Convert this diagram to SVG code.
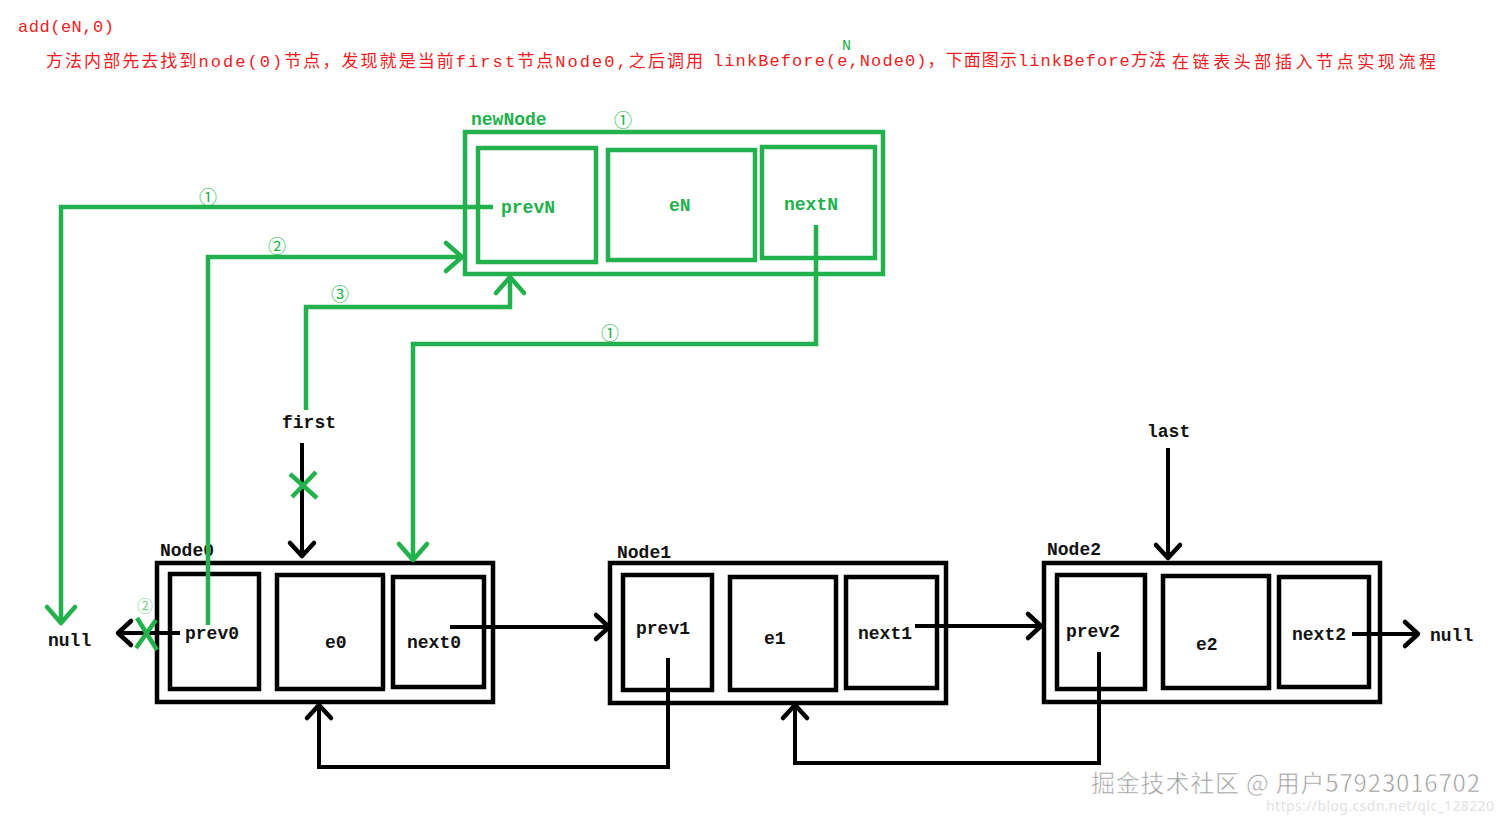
<svg xmlns="http://www.w3.org/2000/svg" width="1503" height="821" viewBox="0 0 1503 821">
<style>
.t{font-family:"Liberation Mono","Noto Sans CJK SC",monospace;font-size:18px;font-weight:bold;fill:#111}
.g{fill:#22b14c}
.red{font-family:"Liberation Mono","Noto Sans CJK SC",monospace;font-size:17px;fill:#ee1c24}
.c{font-family:"Noto Sans CJK SC","DejaVu Sans",sans-serif;font-size:18px;fill:#22b14c}
.bk{fill:none;stroke:#000;stroke-width:4.5}
.gr{fill:none;stroke:#22b14c;stroke-width:4.5}
.bl{fill:none;stroke:#000;stroke-width:4}
.gl{fill:none;stroke:#22b14c;stroke-width:4.5}
.wm{font-family:"Noto Sans CJK SC","Noto Sans",sans-serif;font-size:24px;fill:#9a9a9a;stroke:#fff;stroke-width:0.6}
.wm2{font-family:"Noto Sans","DejaVu Sans",sans-serif;font-size:14px;fill:#e2e2e2}
</style>
<defs>
<marker id="ab" markerUnits="userSpaceOnUse" viewBox="-20 -16 24 32" refX="0" refY="0" markerWidth="24" markerHeight="32" orient="auto" overflow="visible">
<path d="M-13,-12 L0,0 L-13,12" fill="none" stroke="#000" stroke-width="4.5" stroke-linecap="round" stroke-linejoin="round"/>
</marker>
<marker id="ag" markerUnits="userSpaceOnUse" viewBox="-20 -16 24 32" refX="0" refY="0" markerWidth="24" markerHeight="32" orient="auto" overflow="visible">
<path d="M-16,-14 L0,0 L-16,14" fill="none" stroke="#22b14c" stroke-width="4.5" stroke-linecap="round" stroke-linejoin="round"/>
</marker>
</defs>
<rect width="1503" height="821" fill="#fff"/>

<g id="title">
<text class="red" x="18" y="32" textLength="96">add(eN,0)</text>
<text class="red" x="46" y="67" textLength="657">方法内部先去找到node(0)节点，发现就是当前first节点Node0,之后调用</text>
<text class="red" x="713" y="66" textLength="453">linkBefore(e,Node0)，下面图示linkBefore方法</text>
<text class="red" x="1172" y="68" textLength="264">在链表头部插入节点实现流程</text>
<text x="842" y="50" style="font-family:'Liberation Mono',monospace;font-size:15px;fill:#22b14c">N</text>
</g>

<g id="newNode">
<rect class="gr" x="465" y="132" width="418" height="142"/>
<rect class="gr" x="478" y="148" width="118" height="114"/>
<rect class="gr" x="608" y="150" width="147" height="110"/>
<rect class="gr" x="762" y="147" width="113" height="111"/>
<text class="t g" x="471" y="125">newNode</text>
<text class="t g" x="501" y="213">prevN</text>
<text class="t g" x="669" y="211">eN</text>
<text class="t g" x="784" y="210">nextN</text>
<text class="c" x="614" y="127">①</text>
</g>

<g id="node0">
<rect class="bk" x="157" y="563" width="336" height="139"/>
<rect class="bk" x="170" y="574" width="89" height="115"/>
<rect class="bk" x="277" y="575" width="106" height="114"/>
<rect class="bk" x="393" y="577" width="91" height="110"/>
<text class="t" x="160" y="556">Node0</text>
<text class="t" x="185" y="639">prev0</text>
<text class="t" x="325" y="648">e0</text>
<text class="t" x="407" y="648">next0</text>
</g>

<g id="node1">
<rect class="bk" x="610" y="563" width="336" height="140"/>
<rect class="bk" x="623" y="575" width="89" height="115"/>
<rect class="bk" x="730" y="577" width="106" height="113"/>
<rect class="bk" x="846" y="577" width="91" height="111"/>
<text class="t" x="617" y="558">Node1</text>
<text class="t" x="636" y="634">prev1</text>
<text class="t" x="764" y="644">e1</text>
<text class="t" x="858" y="639">next1</text>
</g>

<g id="node2">
<rect class="bk" x="1044" y="563" width="336" height="139"/>
<rect class="bk" x="1057" y="575" width="88" height="114"/>
<rect class="bk" x="1163" y="576" width="106" height="112"/>
<rect class="bk" x="1279" y="577" width="90" height="110"/>
<text class="t" x="1047" y="555">Node2</text>
<text class="t" x="1066" y="637">prev2</text>
<text class="t" x="1196" y="650">e2</text>
<text class="t" x="1292" y="640">next2</text>
</g>

<g id="labels">
<text class="t" x="282" y="428">first</text>
<text class="t" x="1147" y="437">last</text>
<text class="t" x="48" y="646">null</text>
<text class="t" x="1430" y="641">null</text>
</g>

<g id="connectors">
<path class="bl" d="M302,443 V556" marker-end="url(#ab)"/>
<path class="bl" d="M1168,448 V558" marker-end="url(#ab)"/>
<path class="bl" d="M180,633 H118" marker-end="url(#ab)"/>
<path class="bl" d="M450,627 H609" marker-end="url(#ab)"/>
<path class="bl" d="M915,626 H1041" marker-end="url(#ab)"/>
<path class="bl" d="M1352,634 H1418" marker-end="url(#ab)"/>
<path class="bl" d="M668,658 V767 H319 V705" marker-end="url(#ab)"/>
<path class="bl" d="M1099,652 V763 H795 V705" marker-end="url(#ab)"/>
<path class="gl" d="M493,207 H61 V623" marker-end="url(#ag)"/>
<path class="gl" d="M208,625 V257 H462" marker-end="url(#ag)"/>
<path class="gl" d="M306,410 V307 H510 V277" marker-end="url(#ag)"/>
<path class="gl" d="M816,225 V344 H413 V560" marker-end="url(#ag)"/>
<path class="gl" d="M290,474 L317,498 M316,472 L292,497" stroke-width="4"/>
<path class="gl" d="M137,618 L157,650 M156,620 L136,648" stroke-width="4"/>
<text class="c" x="199" y="204">①</text>
<text class="c" x="268" y="253">②</text>
<text class="c" x="331" y="301">③</text>
<text class="c" x="601" y="340">①</text>
<text class="c" x="137" y="612" style="font-size:16px;fill:#7ed08f">②</text>
</g>

<g id="watermark">
<text class="wm" x="1091" y="792" textLength="389">掘金技术社区 @ 用户57923016702</text>
<text class="wm2" x="1266" y="811" textLength="228">https://blog.csdn.net/qlc_128220</text>
</g>
</svg>
